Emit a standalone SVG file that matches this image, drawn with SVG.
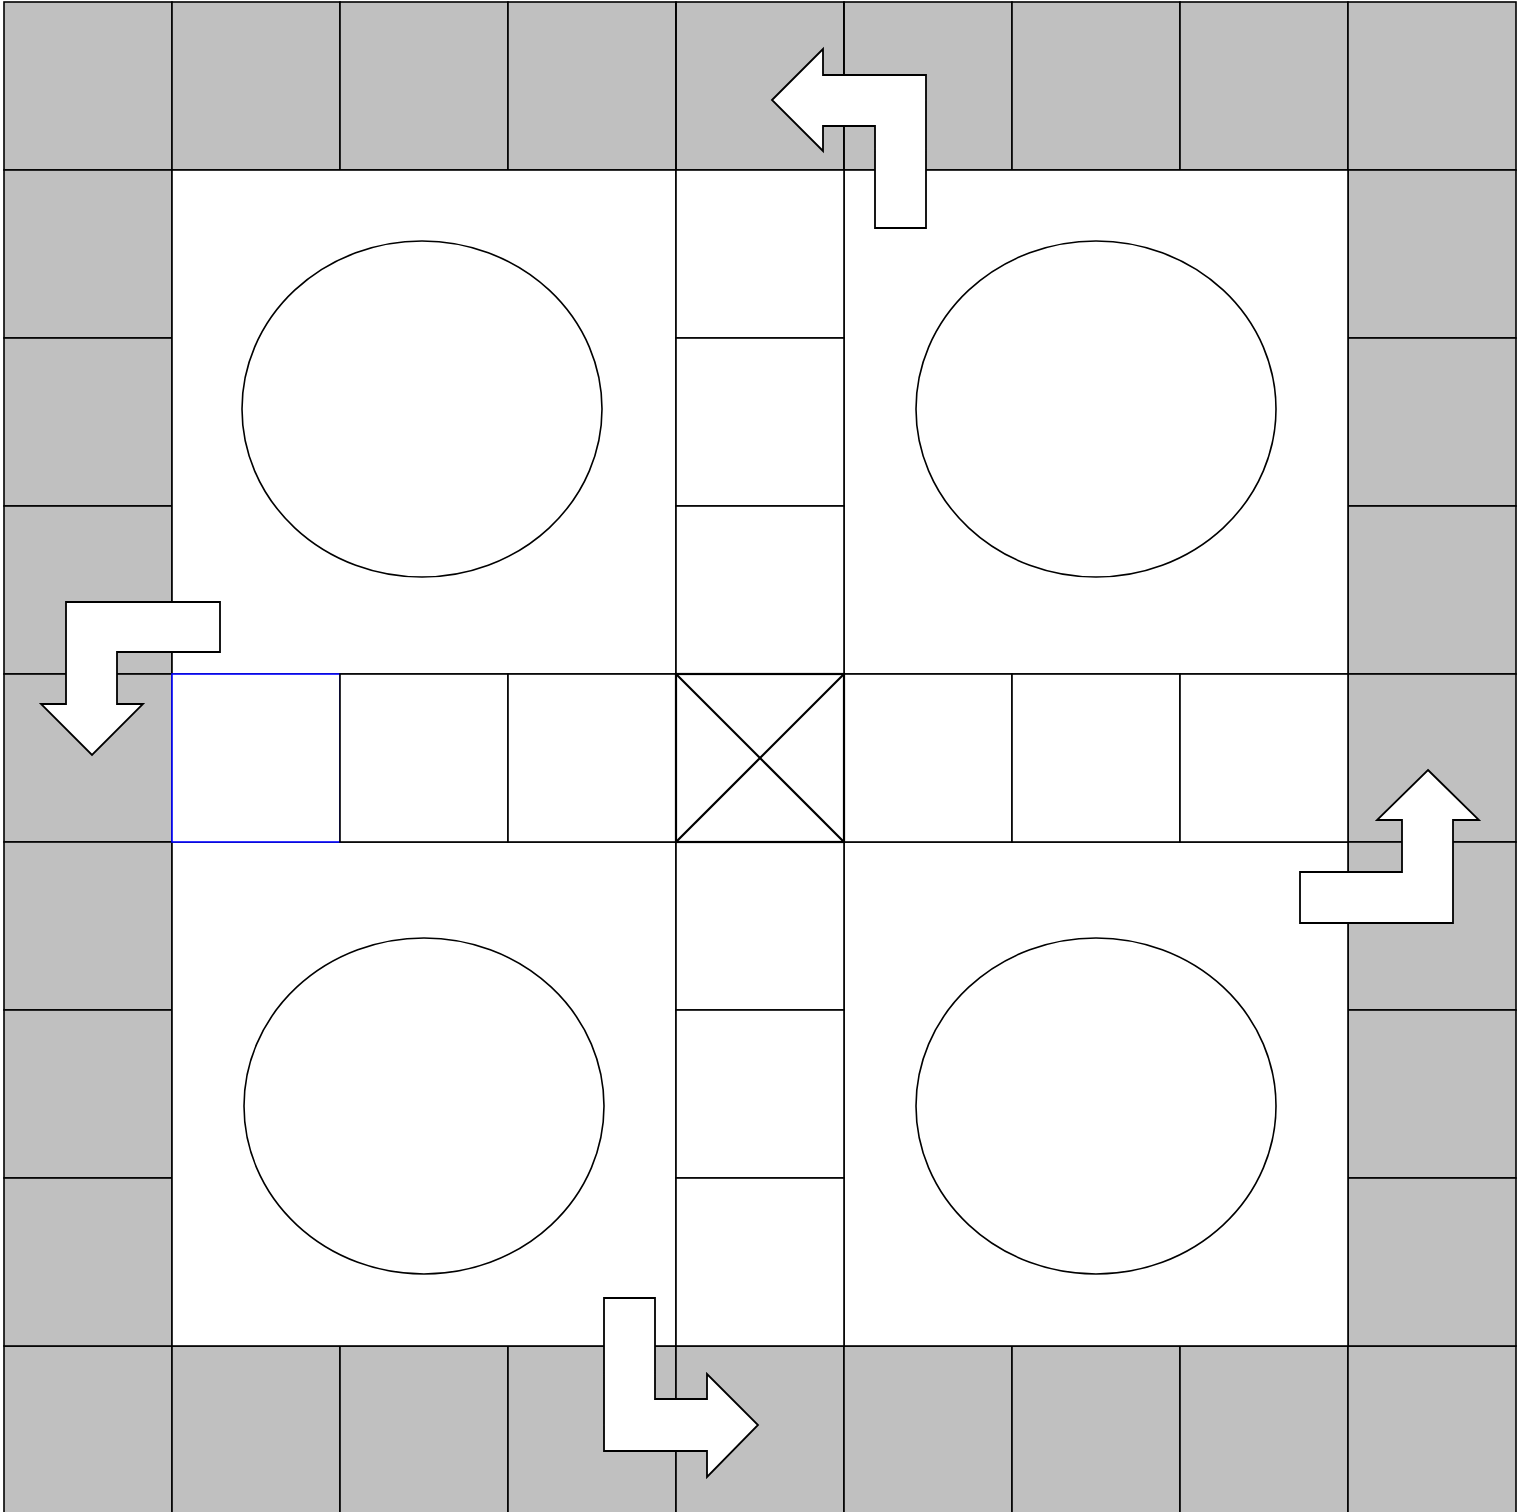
<svg xmlns="http://www.w3.org/2000/svg" width="1519" height="1512" viewBox="0 0 1519 1512">
<style>
.g{fill:#c0c0c0;stroke:#000;stroke-width:1.6}
.w{fill:#fff;stroke:#000;stroke-width:1.6}
.b{fill:#fff;stroke:#0000ff;stroke-width:1.6}
.x{fill:none;stroke:#000;stroke-width:2.2}
.a{fill:#fff;stroke:#000;stroke-width:1.8;stroke-linejoin:miter}
</style>
<rect width="1519" height="1512" fill="#fff"/>
<g id="track">
<rect class="g" x="4" y="2" width="168" height="168"/>
<rect class="g" x="172" y="2" width="168" height="168"/>
<rect class="g" x="340" y="2" width="168" height="168"/>
<rect class="g" x="508" y="2" width="168" height="168"/>
<rect class="g" x="676" y="2" width="168" height="168"/>
<rect class="g" x="844" y="2" width="168" height="168"/>
<rect class="g" x="1012" y="2" width="168" height="168"/>
<rect class="g" x="1180" y="2" width="168" height="168"/>
<rect class="g" x="1348" y="2" width="168" height="168"/>
<rect class="g" x="4" y="1346" width="168" height="168"/>
<rect class="g" x="172" y="1346" width="168" height="168"/>
<rect class="g" x="340" y="1346" width="168" height="168"/>
<rect class="g" x="508" y="1346" width="168" height="168"/>
<rect class="g" x="676" y="1346" width="168" height="168"/>
<rect class="g" x="844" y="1346" width="168" height="168"/>
<rect class="g" x="1012" y="1346" width="168" height="168"/>
<rect class="g" x="1180" y="1346" width="168" height="168"/>
<rect class="g" x="1348" y="1346" width="168" height="168"/>
<rect class="g" x="4" y="170" width="168" height="168"/>
<rect class="g" x="4" y="338" width="168" height="168"/>
<rect class="g" x="4" y="506" width="168" height="168"/>
<rect class="g" x="4" y="674" width="168" height="168"/>
<rect class="g" x="4" y="842" width="168" height="168"/>
<rect class="g" x="4" y="1010" width="168" height="168"/>
<rect class="g" x="4" y="1178" width="168" height="168"/>
<rect class="g" x="1348" y="170" width="168" height="168"/>
<rect class="g" x="1348" y="338" width="168" height="168"/>
<rect class="g" x="1348" y="506" width="168" height="168"/>
<rect class="g" x="1348" y="674" width="168" height="168"/>
<rect class="g" x="1348" y="842" width="168" height="168"/>
<rect class="g" x="1348" y="1010" width="168" height="168"/>
<rect class="g" x="1348" y="1178" width="168" height="168"/>
</g>
<g id="homes">
<rect id="home-tl" class="w" x="172" y="170" width="504" height="504"/>
<rect id="home-tr" class="w" x="844" y="170" width="504" height="504"/>
<rect id="home-bl" class="w" x="172" y="842" width="504" height="504"/>
<rect id="home-br" class="w" x="844" y="842" width="504" height="504"/>
<ellipse class="w" cx="422" cy="409" rx="180" ry="168"/>
<ellipse class="w" cx="1096" cy="409" rx="180" ry="168"/>
<ellipse class="w" cx="424" cy="1106" rx="180" ry="168"/>
<ellipse class="w" cx="1096" cy="1106" rx="180" ry="168"/>
</g>
<g id="lanes">
<rect class="w" x="676" y="170" width="168" height="168"/>
<rect class="w" x="676" y="338" width="168" height="168"/>
<rect class="w" x="676" y="506" width="168" height="168"/>
<rect class="w" x="676" y="842" width="168" height="168"/>
<rect class="w" x="676" y="1010" width="168" height="168"/>
<rect class="w" x="676" y="1178" width="168" height="168"/>
<rect class="b" x="172" y="674" width="168" height="168"/>
<rect class="w" x="340" y="674" width="168" height="168"/>
<rect class="w" x="508" y="674" width="168" height="168"/>
<rect class="w" x="844" y="674" width="168" height="168"/>
<rect class="w" x="1012" y="674" width="168" height="168"/>
<rect class="w" x="1180" y="674" width="168" height="168"/>
<line x1="676" y1="2" x2="676" y2="170" stroke="#000" stroke-width="1.6"/>
<line x1="844" y1="2" x2="844" y2="170" stroke="#000" stroke-width="1.6"/>
</g>
<g id="center">
<rect class="x" x="676" y="674" width="168" height="168"/>
<line class="x" x1="676" y1="674" x2="844" y2="842"/>
<line class="x" x1="844" y1="674" x2="676" y2="842"/>
</g>
<g id="arrows">
<polygon id="arrow-top" class="a" points="772,100 823,49 823,75 926,75 926,228 875,228 875,126 823,126 823,151"/>
<polygon id="arrow-left" class="a" points="66,602 220,602 220,652 117,652 117,704 143,704 92,755 41,704 66,704"/>
<polygon id="arrow-right" class="a" points="1428,770 1479,820 1453,820 1453,923 1300,923 1300,872 1402,872 1402,820 1377,820"/>
<polygon id="arrow-bottom" class="a" points="604,1298 655,1298 655,1399 707,1399 707,1374 758,1425 707,1477 707,1451 604,1451"/>
</g>
</svg>
